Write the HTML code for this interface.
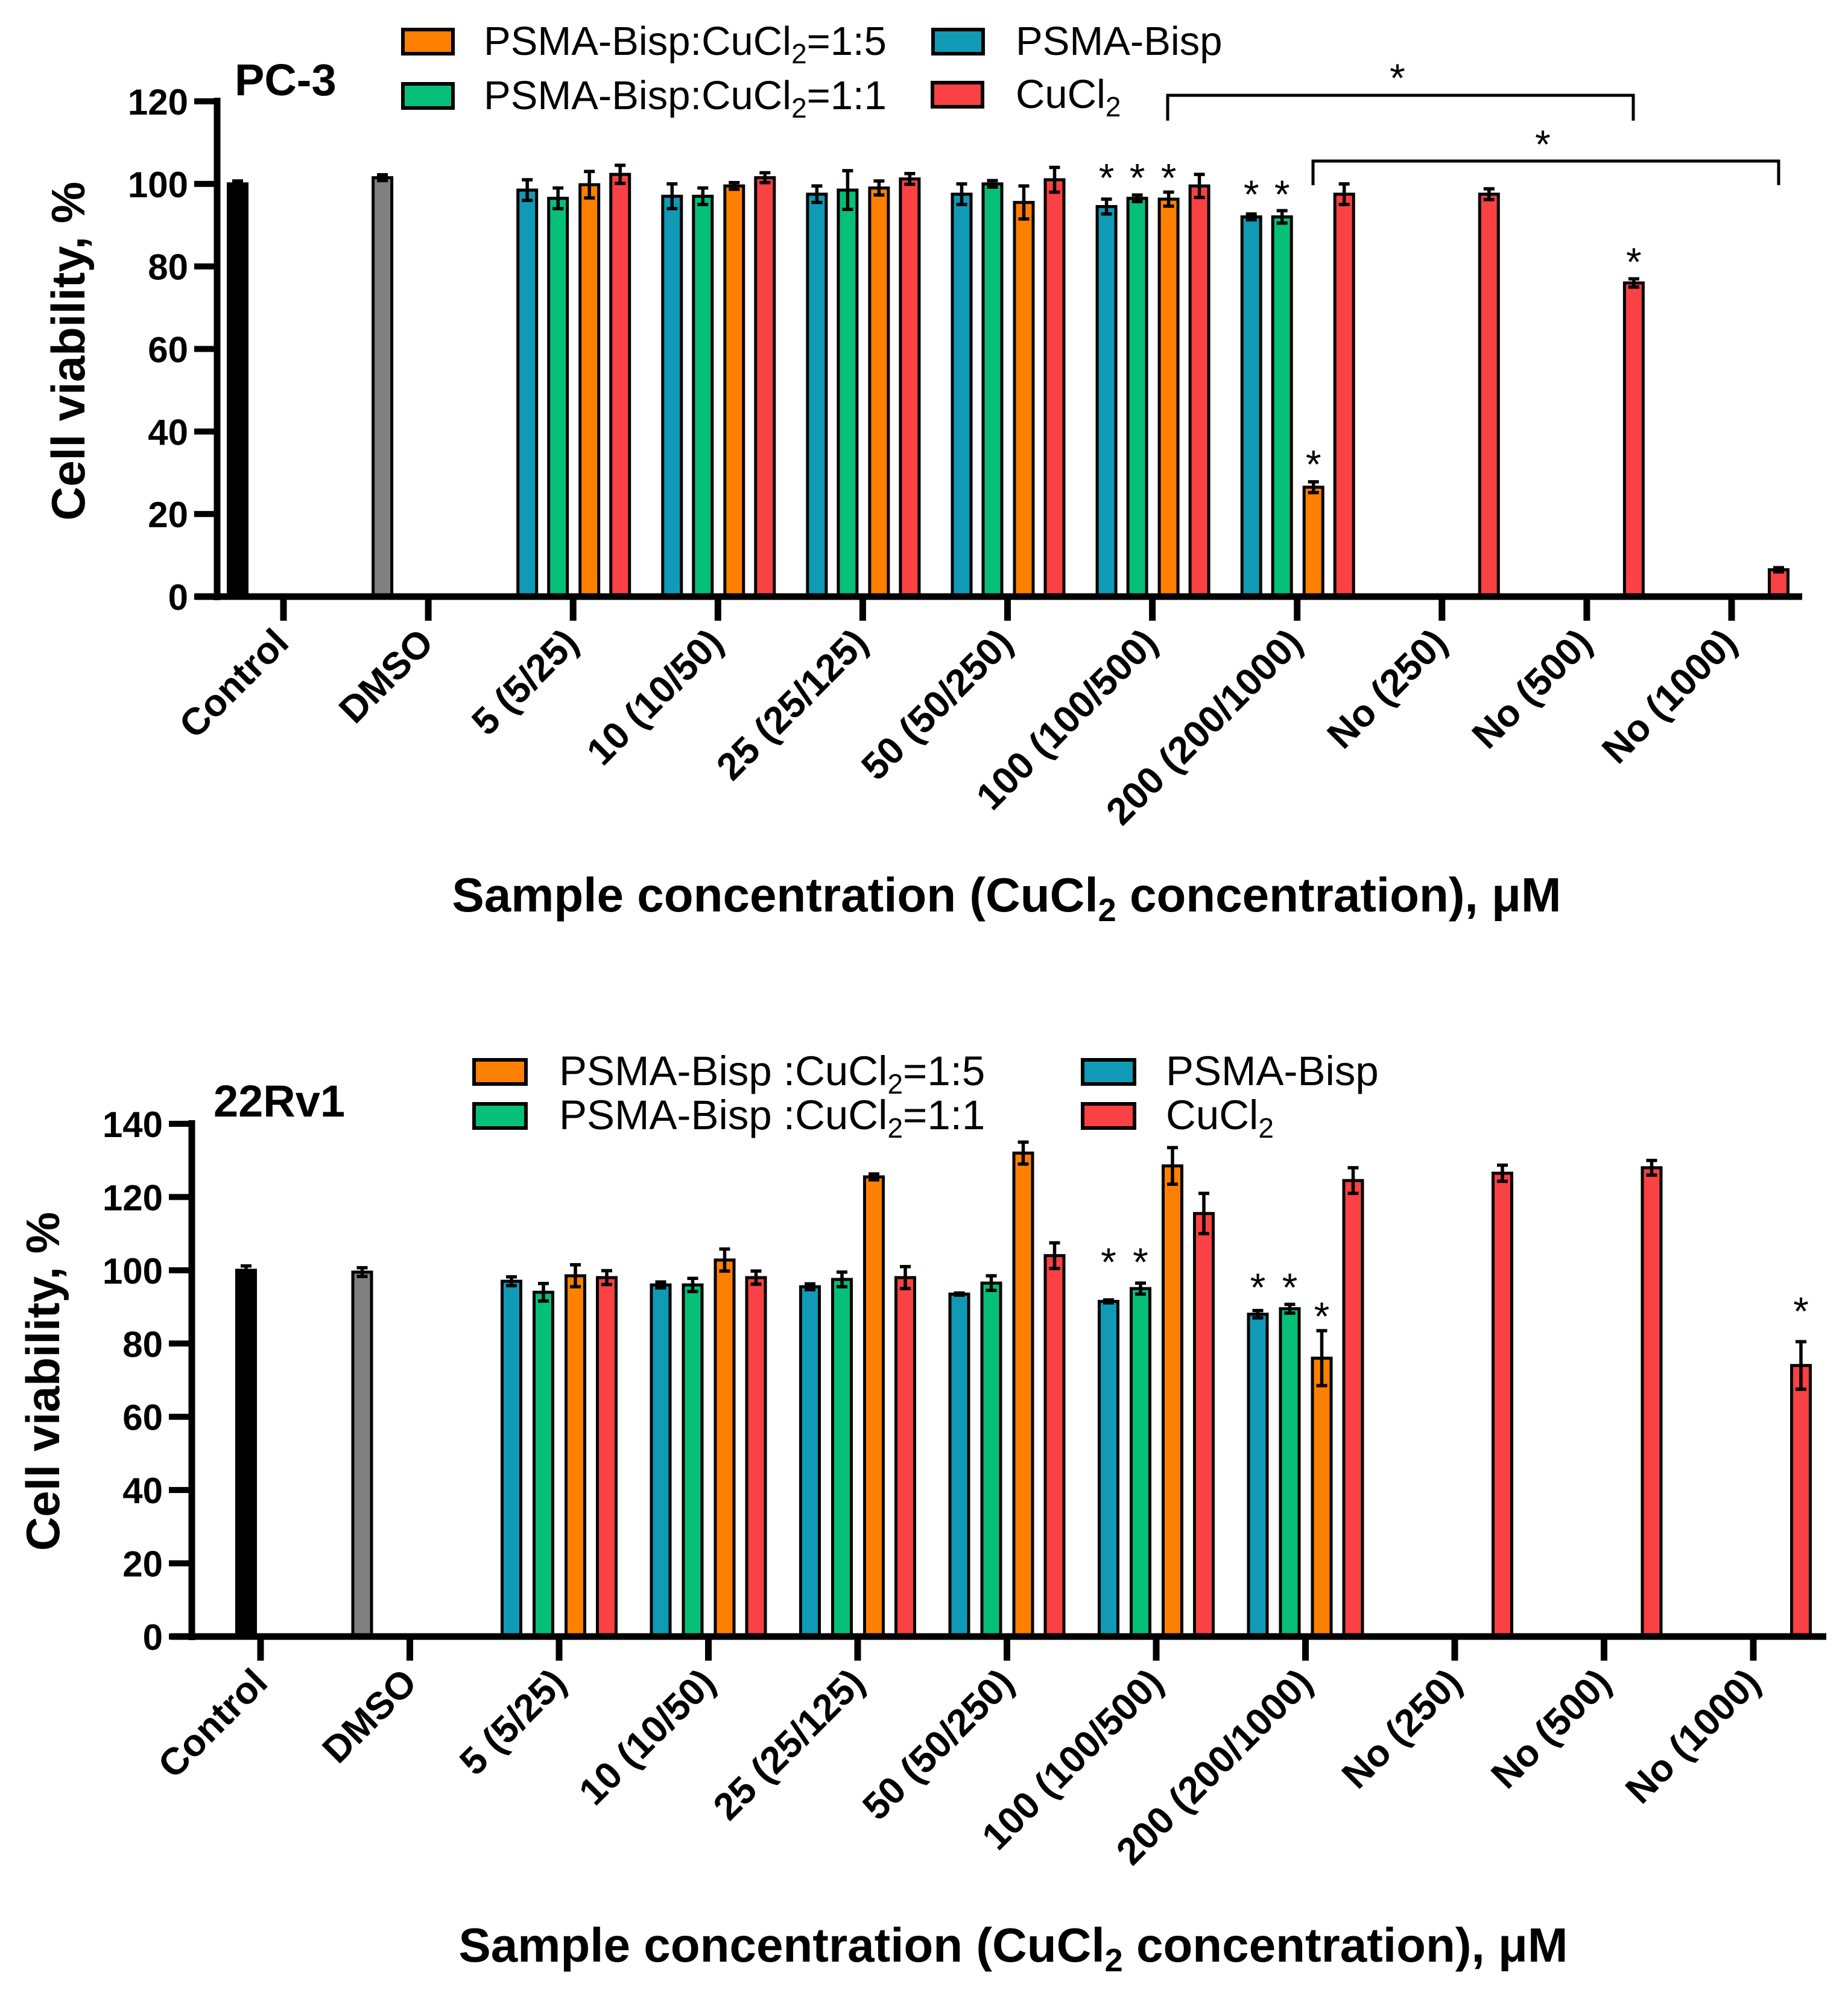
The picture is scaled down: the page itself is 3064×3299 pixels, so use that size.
<!DOCTYPE html>
<html><head><meta charset="utf-8"><style>
html,body{margin:0;padding:0;background:#fff;}
svg{display:block;font-family:"Liberation Sans",Arial,sans-serif;}
</style></head><body>
<svg id="fig" width="3064" height="3299" viewBox="0 0 3064 3299" xmlns="http://www.w3.org/2000/svg"></svg>
<script>
const categories = ["Control","DMSO","5 (5/25)","10 (10/50)","25 (25/125)","50 (50/250)","100 (100/500)","200 (200/1000)","No (250)","No (500)","No (1000)"];
// PC-3
const pc3Control = [100, 0.7];
const pc3Dmso = [101.5, 0.7];
const pc3Blue = [null,null,98.5,97,97.5,97.5,94.5,92,null,null,null];
const pc3BlueErr = [0,0,2.5,3,2,2.5,1.8,0.7,0,0,0];
const pc3Green = [null,null,96.5,97,98.5,100,96.5,92,null,null,null];
const pc3GreenErr = [0,0,2.5,2,4.7,0.8,0.8,1.5,0,0,0];
const pc3Orange = [null,null,99.8,99.5,99,95.5,96.3,26.5,null,null,null];
const pc3OrangeErr = [0,0,3.2,0.8,1.7,4,1.7,1.3,0,0,0];
const pc3Red = [null,null,102.3,101.5,101.2,101,99.5,97.5,97.5,76,6.5];
const pc3RedErr = [0,0,2.2,1.2,1.3,3,2.8,2.5,1.3,1,0.5];
const pc3Stars = [[6,0,103.4],[6,1,103.4],[6,2,103.4],[7,0,99.4],[7,1,99.4],[7,2,34],[9,3,83]];
const pc3YTicks = [0,20,40,60,80,100,120];
// 22Rv1
const rvControl = [100, 1.2];
const rvDmso = [99.5, 1.2];
const rvBlue = [null,null,97,96,95.5,93.5,91.5,88,null,null,null];
const rvBlueErr = [0,0,1.2,0.8,0.8,0.3,0.4,1,0,0,0];
const rvGreen = [null,null,94,96,97.5,96.5,95,89.5,null,null,null];
const rvGreenErr = [0,0,2.4,1.8,2,2,1.5,1.2,0,0,0];
const rvOrange = [null,null,98.5,102.8,125.5,132,128.5,76,null,null,null];
const rvOrangeErr = [0,0,3,3,0.8,3,5,7.5,0,0,0];
const rvRed = [null,null,98,98,98,104,115.5,124.5,126.5,128,74];
const rvRedErr = [0,0,1.9,1.8,3,3.5,5.5,3.5,2.2,2,6.5];
const rvStars = [[6,0,104.4],[6,1,104.4],[7,0,97.5],[7,1,97.5],[7,2,89.6],[10,3,91]];
const rvYTicks = [0,20,40,60,80,100,120,140];

const NS="http://www.w3.org/2000/svg";
const svg=document.getElementById('fig');
const COL={blue:"#109AB5",green:"#06BF78",orange:"#FF8000",red:"#FA4143",black:"#000",gray:"#808080"};
function mk(tag,attrs,parent){const e=document.createElementNS(NS,tag);for(const k in attrs)e.setAttribute(k,attrs[k]);(parent||svg).appendChild(e);return e;}

function panel(cfg){
  const g=mk('g',{});
  
  
  const y=v=>cfg.y0-(v/cfg.ymax)*(cfg.y0-cfg.yTop);
  const xc=i=>cfg.x0+cfg.step*i;
  function bar(i,off,val,err,color,nm){
    if(val===null)return;
    const cx=xc(i)+off, w=31, top=y(val);
    const r=mk('rect',{x:cx-w/2,y:top,width:w,height:cfg.y0-top,fill:color,stroke:'#000','stroke-width':5},g);
    
    
    if(err>0){
      const p=mk('path',{d:`M${cx},${y(val+err)}V${y(val-err)}M${cx-9},${y(val+err)}h18M${cx-9},${y(val-err)}h18`,stroke:'#000','stroke-width':5.5,fill:'none'},g);
      
      
    }
  }
  bar(0,cfg.ctrlOff,cfg.control[0],cfg.control[1],COL.black,'bar-control');
  bar(1,cfg.offs[0],cfg.dmso[0],cfg.dmso[1],COL.gray,'bar-dmso');
  const ser=[[cfg.blue,cfg.blueErr,COL.blue,'psma-bisp'],[cfg.green,cfg.greenErr,COL.green,'ratio-1-1'],[cfg.orange,cfg.orangeErr,COL.orange,'ratio-1-5'],[cfg.red,cfg.redErr,COL.red,'cucl2']];
  ser.forEach((s,k)=>{for(let i=2;i<categories.length;i++)bar(i,cfg.offs[k],s[0][i],s[1][i],s[2],'bar-'+s[3]+'-'+i);});
  cfg.stars.forEach(st=>{
    const t=mk('text',{x:xc(st[0])+cfg.offs[st[1]],y:y(st[2])+36,'font-size':66,'text-anchor':'middle'},g);
    t.textContent='*';
    
    
  });
  const ax=mk('path',{d:`M${cfg.axX},${cfg.yTop-6}V${cfg.y0+6}M${cfg.xStart},${cfg.y0}H${cfg.xEnd}`,stroke:'#000','stroke-width':11,fill:'none'},g);
  
  
  cfg.yticks.forEach(v=>{
    const l=mk('line',{x1:cfg.axX-38,x2:cfg.axX,y1:y(v),y2:y(v),stroke:'#000','stroke-width':10},g);
    
    
    const t=mk('text',{x:cfg.axX-48,y:y(v)+22,'font-size':60,'font-weight':'bold','text-anchor':'end'},g);
    t.textContent=v;
    
    
  });
  categories.forEach((c,i)=>{
    const l=mk('line',{x1:xc(i),x2:xc(i),y1:cfg.y0,y2:cfg.y0+40,stroke:'#000','stroke-width':11},g);
    
    
    const lx=xc(i)+cfg.labDx, ly=cfg.y0+80;
    const t=mk('text',{x:lx,y:ly,'font-size':63,'font-weight':'bold','text-anchor':'end',transform:`rotate(-45 ${lx} ${ly})`},g);
    t.textContent=c;
    
    
  });
  const yt=mk('text',{x:cfg.ytX,y:cfg.ytY,'font-size':78,'font-weight':'bold','text-anchor':'middle',transform:`rotate(-90 ${cfg.ytX} ${cfg.ytY})`},g);
  yt.textContent='Cell viability, %';
  
  
  const xt=mk('text',{x:cfg.xtX,y:cfg.xtY,'font-size':80,'font-weight':'bold','text-anchor':'middle'},g);
  xt.innerHTML='Sample concentration (CuCl<tspan font-size="54" dy="16">2</tspan><tspan dy="-16"> concentration), μM</tspan>';
  
  
  const pt=mk('text',{x:cfg.tX,y:cfg.tY,'font-size':74,'font-weight':'bold'},g);
  pt.textContent=cfg.title;
  
  
  cfg.legend.forEach(L=>{
    const r=mk('rect',{x:L[0],y:L[1],width:L[2],height:40,fill:L[3],stroke:'#000','stroke-width':6},g);
    
    
    const t=mk('text',{x:L[4],y:L[1]+42,'font-size':cfg.legFs},g);
    t.innerHTML=L[5];
    
    
  });
  return g;
}

const sub='<tspan font-size="46" dy="14">2</tspan><tspan dy="-14">';
panel({name:'pc3-panel',title:'PC-3',tX:389,tY:158,x0:470,step:240.1,y0:989,yTop:168,ymax:120,axX:360,xStart:323,xEnd:2988,
  ctrlOff:-76,offs:[-76,-25,27,78],control:pc3Control,dmso:pc3Dmso,
  blue:pc3Blue,blueErr:pc3BlueErr,green:pc3Green,greenErr:pc3GreenErr,orange:pc3Orange,orangeErr:pc3OrangeErr,red:pc3Red,redErr:pc3RedErr,
  stars:pc3Stars,yticks:pc3YTicks,labDx:12,ytX:140,ytY:582,xtX:1669,xtY:1511,legFs:67,
  legend:[[668,49,83,COL.orange,802,'PSMA-Bisp:CuCl'+sub+'=1:5</tspan>'],[668,139,83,COL.green,802,'PSMA-Bisp:CuCl'+sub+'=1:1</tspan>'],
          [1547,49,83,COL.blue,1684,'PSMA-Bisp'],[1546,137,83,COL.red,1684,'CuCl'+sub+'</tspan>']]});
panel({name:'22rv1-panel',title:'22Rv1',tX:354,tY:1851,x0:432,step:247.5,y0:2713,yTop:1863,ymax:140,axX:318,xStart:283,xEnd:3028,
  ctrlOff:-24,offs:[-79,-26,27,79],control:rvControl,dmso:rvDmso,
  blue:rvBlue,blueErr:rvBlueErr,green:rvGreen,greenErr:rvGreenErr,orange:rvOrange,orangeErr:rvOrangeErr,red:rvRed,redErr:rvRedErr,
  stars:rvStars,yticks:rvYTicks,labDx:15,ytX:98,ytY:2290,xtX:1680,xtY:3252,legFs:69,
  legend:[[786,1757,86,COL.orange,927,'PSMA-Bisp :CuCl'+sub+'=1:5</tspan>'],[786,1830,86,COL.green,927,'PSMA-Bisp :CuCl'+sub+'=1:1</tspan>'],
          [1795,1757,86,COL.blue,1933,'PSMA-Bisp'],[1795,1830,86,COL.red,1933,'CuCl'+sub+'</tspan>']]});

const br=mk('path',{d:'M1936,200V158H2708V200M2177,307V267H2949V307',stroke:'#000','stroke-width':5,fill:'none'});


[[2317,152],[2558,262]].forEach(p=>{
  const t=mk('text',{x:p[0],y:p[1],'font-size':66,'text-anchor':'middle'});
  t.textContent='*';
  
  
});
</script>
</body></html>
